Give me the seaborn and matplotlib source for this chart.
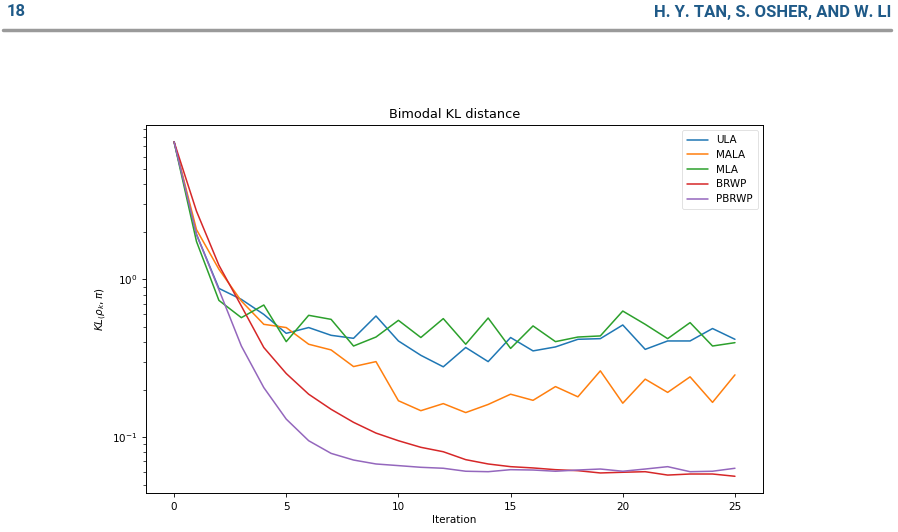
import matplotlib
matplotlib.use("Agg")
import matplotlib.pyplot as plt
import seaborn as sns
import pandas as pd
import numpy as np

iterations = list(range(26))
ula = [7.47, 1.93, 0.877, 0.747, 0.600, 0.455, 0.495, 0.442, 0.423, 0.586, 0.407, 0.330, 0.279,
       0.370, 0.301, 0.428, 0.352, 0.373, 0.417, 0.421, 0.514, 0.360, 0.407, 0.407, 0.488, 0.417]
mala = [7.47, 2.07, 1.16, 0.729, 0.519, 0.495, 0.388, 0.357, 0.280, 0.301, 0.170, 0.147, 0.163,
        0.143, 0.161, 0.187, 0.171, 0.209, 0.180, 0.263, 0.164, 0.233, 0.192, 0.241, 0.166, 0.248]
mla = [7.47, 1.74, 0.736, 0.572, 0.688, 0.403, 0.592, 0.558, 0.378, 0.431, 0.550, 0.428, 0.564,
       0.388, 0.569, 0.365, 0.507, 0.403, 0.431, 0.438, 0.630, 0.519, 0.421, 0.532, 0.378, 0.397]
brwp = [7.47, 2.71, 1.23, 0.678, 0.370, 0.253, 0.187, 0.150, 0.124, 0.106, 0.0948, 0.0861, 0.0807,
        0.0719, 0.0675, 0.0649, 0.0637, 0.0621, 0.0612, 0.0592, 0.0598, 0.0603, 0.0574, 0.0583, 0.0583, 0.0564]
pbrwp = [7.47, 1.93, 0.86, 0.378, 0.206, 0.130, 0.0948, 0.0788, 0.0715, 0.0675, 0.0659, 0.0643, 0.0634,
         0.0607, 0.0603, 0.0621, 0.0618, 0.0607, 0.0618, 0.0627, 0.0607, 0.0627, 0.0649, 0.0603, 0.0607, 0.0634]
methods = ["ULA", "MALA", "MLA", "BRWP", "PBRWP"]
xticks = [0, 5, 10, 15, 20, 25]

series = dict(zip(methods, [ula, mala, mla, brwp, pbrwp]))
df = pd.DataFrame([(m, i, v) for m in methods for i, v in zip(iterations, series[m])],
                  columns=["method", "iteration", "value"])

sns.set_style("ticks")
plt.rcParams['font.family'] = ['DejaVu Sans']
plt.rcParams['text.color'] = 'black'
plt.rcParams['axes.labelcolor'] = 'black'
plt.rcParams['xtick.color'] = 'black'
plt.rcParams['ytick.color'] = 'black'

fig = plt.figure(figsize=(8.98, 5.32), dpi=100)
ax = fig.add_axes([146/898, 1-493/532, (763-146)/898, (493-125)/532])

palette = ["#1f77b4", "#ff7f0e", "#2ca02c", "#d62728", "#9467bd"]
sns.lineplot(data=df, x="iteration", y="value", hue="method", hue_order=methods,
             palette=palette, ax=ax, linewidth=1.1)
ax.set_yscale("log")
ax.set_xticks(xticks)
ax.set_xlabel("Iteration", fontsize=7.5, labelpad=2)
ax.set_ylabel(r"$KL_(\rho_k, \pi)$", fontsize=7.5, labelpad=2)
ax.set_title("Bimodal KL distance", fontsize=9.3, pad=5)
ax.tick_params(labelsize=7.5, width=0.6, length=3)
ax.tick_params(which="minor", width=0.5, length=2)
for s in ax.spines.values():
    s.set_linewidth(0.7)
    s.set_color("black")
ax.margins(x=0.05, y=0.05)
leg = ax.legend(fontsize=7.5, loc="upper right", handlelength=2.0, borderpad=0.5,
                labelspacing=0.45, framealpha=0.8)
leg.get_frame().set_linewidth(0.5)

blue = "#1f5a88"
fig.text(7/898, 1-12/532, "18", fontsize=12, fontweight="bold", color=blue,
         ha="left", va="center", family="Roboto")
fig.text(891/898, 1-12/532, "H. Y. TAN, S. OSHER, AND W. LI", fontsize=12, fontweight="bold",
         color=blue, ha="right", va="center", family="Roboto")
fig.add_artist(plt.Line2D([3/898, 891/898], [1-30/532, 1-30/532], color="#9a9a9a",
                          linewidth=2.5, transform=fig.transFigure))

fig.savefig("out.png", dpi=100)
